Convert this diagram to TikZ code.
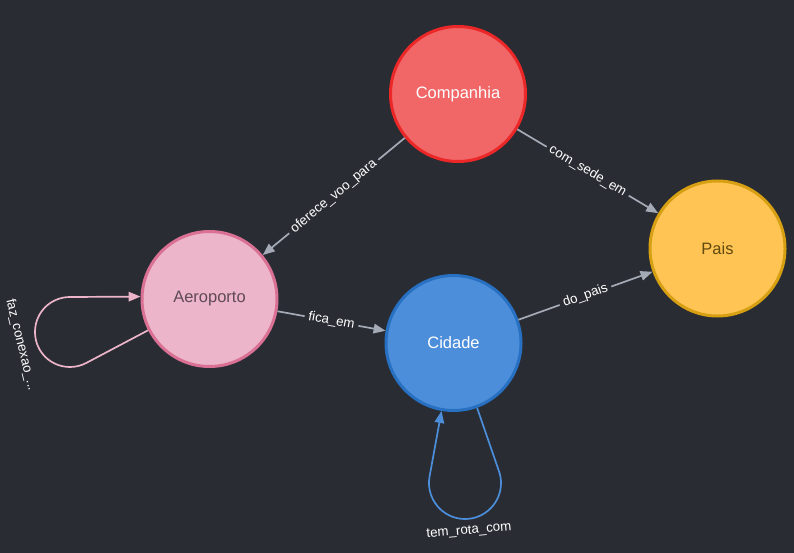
\documentclass[tikz,border=0pt]{standalone}
\usepackage{fontspec}
\setmainfont{Liberation Sans}
\usetikzlibrary{arrows.meta}
\definecolor{bg}{HTML}{292C33}
\definecolor{edgec}{HTML}{A5ABB6}
\definecolor{compfill}{HTML}{F16667}
\definecolor{compdraw}{HTML}{EB2728}
\definecolor{aerofill}{HTML}{ECB5C9}
\definecolor{aerodraw}{HTML}{DA7194}
\definecolor{aerotext}{HTML}{604A55}
\definecolor{cidfill}{HTML}{4C8EDA}
\definecolor{ciddraw}{HTML}{2870C2}
\definecolor{paisfill}{HTML}{FFC454}
\definecolor{paisdraw}{HTML}{D7A013}
\definecolor{paistext}{HTML}{604A0E}
\begin{document}
\begin{tikzpicture}[x=1pt,y=-1pt,
  gnode/.style={circle, minimum size=135pt, line width=3pt, inner sep=0pt, font=\fontsize{16.5}{18}\selectfont},
  edge/.style={draw=edgec, line width=1.7pt, -{Triangle[length=12pt,width=9.5pt]}},
  elbl/.style={sloped, fill=bg, text=white, inner xsep=4pt, inner ysep=1pt, font=\fontsize{13.3}{14}\selectfont},
  freelbl/.style={text=white, inner sep=0pt, font=\fontsize{13.3}{14}\selectfont},
  loopa/.style={draw=aerofill, line width=1.7pt, -{Triangle[length=12pt,width=9.5pt]}},
  loopb/.style={draw=cidfill, line width=1.7pt, -{Triangle[length=12pt,width=9.5pt]}}]
\fill[bg] (0,0) rectangle (794,553);
\useasboundingbox (0,0) rectangle (794,553);

\node[gnode, fill=compfill, draw=compdraw, text=white] (comp) at (458,94) {Companhia};
\node[gnode, fill=aerofill, draw=aerodraw, text=aerotext] (aero) at (209.5,299) {Aeroporto};
\node[gnode, fill=cidfill, draw=ciddraw, text=white] (cid) at (453.5,343) {Cidade};
\node[gnode, fill=paisfill, draw=paisdraw, text=paistext] (pais) at (717.5,248.5) {Pais};

\draw[edge] (comp) -- node[elbl] {oferece\_voo\_para} (aero);
\draw[edge] (comp) -- node[elbl] {com\_sede\_em} (pais);
\draw[edge] (aero) -- node[elbl] {fica\_em} (cid);
\draw[edge] (cid) -- node[elbl] {do\_pais} (pais);

\draw[loopa] (aero.207) -- (86.2,363) .. controls (81.2,365.6) and (75.65,367) .. (70,367)
  .. controls (50.67,367) and (35,351.67) .. (35,332)
  .. controls (35,312.33) and (50.67,297) .. (70,297) -- (aero.178);
\node[freelbl, rotate=-76] (lfaz) at (21,345) {faz\_conexao\_...};

\draw[loopb] (cid.290) -- (498.9,471) .. controls (500.3,474.9) and (501,478.9) .. (501,483)
  .. controls (501,502.9) and (484.9,519) .. (465,519)
  .. controls (442.65,519) and (425.7,498.8) .. (429.5,476.8) -- (cid.260);
\node[freelbl, rotate=5] (ltem) at (469,531) {tem\_rota\_com};
\end{tikzpicture}
\end{document}
